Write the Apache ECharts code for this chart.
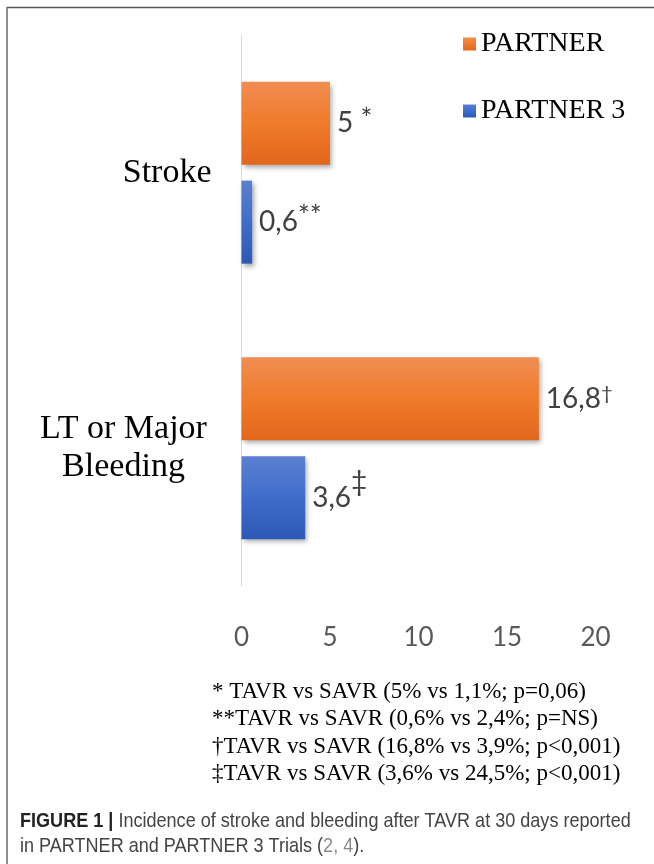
<!DOCTYPE html>
<html>
<head>
<meta charset="utf-8">
<script src="https://cdn.jsdelivr.net/npm/echarts@6/dist/echarts.min.js"></script>
<style>
  html, body { margin: 0; padding: 0; background: #ffffff; }
  #chart { width: 654px; height: 864px; }
</style>
</head>
<body>
<div id="chart"></div>
<script>
// Outcome categories (top to bottom)
const categories = ['Stroke', 'LT or Major\nBleeding'];

// 30-day incidence (%) by trial
const seriesNames = ['PARTNER', 'PARTNER 3'];
const partnerValues = [5, 16.8];
const partner3Values = [0.6, 3.6];

// Significance marks shown next to each value
const partnerMarks = [' *', '\u2020'];
const partner3Marks = ['**', '\u2021'];

// Value axis ticks
const xTicks = [0, 5, 10, 15, 20];

// Footnotes under the axis
const footnotes = [
  '* TAVR vs SAVR (5% vs 1,1%; p=0,06)',
  '**TAVR vs SAVR (0,6% vs 2,4%; p=NS)',
  '\u2020TAVR vs SAVR (16,8% vs 3,9%; p<0,001)',
  '\u2021TAVR vs SAVR (3,6% vs 24,5%; p<0,001)'
];

// Figure caption
const captionTitle = 'FIGURE 1 |';
const captionLine1 = ' Incidence of stroke and bleeding after TAVR at 30 days reported';
const captionLine2a = 'in PARTNER and PARTNER 3 Trials (';
const captionRefs = '2, 4';
const captionLine2b = ').';

const SERIF = '"Liberation Serif", "Times New Roman", serif';
const SANS = 'Lato, "Open Sans", sans-serif';
const CAPTION_FONT = '"Liberation Sans", Arial, sans-serif';

function grad(top, mid, bottom) {
  return new echarts.graphic.LinearGradient(0, 0, 0, 1, [
    { offset: 0, color: top },
    { offset: 0.5, color: mid },
    { offset: 1, color: bottom }
  ]);
}
const orange = grad('#F08D52', '#F07B2B', '#E1661C');
const blue = grad('#5C80D0', '#3F6CCB', '#2E58B6');

const barShadow = {
  shadowColor: 'rgba(0,0,0,0.35)',
  shadowBlur: 5,
  shadowOffsetX: 2,
  shadowOffsetY: 3
};

// Superscript styles for the significance marks; bottom padding lifts the glyph by half its value
function sup(size, lift) {
  return {
    fontFamily: SANS, fontSize: size, color: '#404040',
    lineHeight: 30, verticalAlign: 'middle', padding: [0, 0, lift * 2, 0]
  };
}
const markStyles = {
  ast: sup(28, 3),
  ast2: sup(28, 5),
  dag: sup(20, 5),
  ddag: sup(28, 16)
};
function markKey(m) {
  if (m === '\u2020') return 'dag';
  if (m === '\u2021') return 'ddag';
  if (m === '**') return 'ast2';
  return 'ast';
}

function valueLabel(marks) {
  return {
    show: true,
    position: 'right',
    distance: 7,
    formatter: function (p) {
      const txt = String(p.value).replace('.', ',');
      const m = marks[p.dataIndex];
      return '{v|' + txt + '}{' + markKey(m) + '|' + m + '}';
    },
    rich: Object.assign({
      v: { fontFamily: SANS, fontSize: 28, color: '#404040', lineHeight: 30, verticalAlign: 'middle' }
    }, markStyles)
  };
}

const chart = echarts.init(document.getElementById('chart'), null, { renderer: 'canvas' });

const option = {
  backgroundColor: '#ffffff',
  animation: false,
  grid: { left: 241.5, right: 58.5, top: 35, bottom: 278, containLabel: false },
  legend: {
    orient: 'vertical',
    left: 458,
    top: 24,
    itemWidth: 13,
    itemHeight: 13,
    itemGap: 37,
    icon: 'rect',
    textStyle: { fontFamily: SERIF, fontSize: 28, color: '#000', lineHeight: 30 },
    data: seriesNames
  },
  xAxis: {
    type: 'value',
    min: 0,
    max: 20,
    interval: 5,
    axisLine: { show: false },
    axisTick: { show: false },
    splitLine: { show: false },
    axisLabel: {
      margin: 39,
      fontFamily: SANS,
      fontSize: 26,
      color: '#595959',
      formatter: function (v) { return xTicks.indexOf(v) >= 0 ? String(v) : ''; }
    }
  },
  yAxis: {
    type: 'category',
    inverse: true,
    data: categories,
    axisLine: { show: true, lineStyle: { color: '#D9D9D9', width: 1 } },
    axisTick: { show: false },
    axisLabel: {
      margin: 30,
      fontFamily: SERIF,
      fontSize: 34,
      color: '#000',
      lineHeight: 38,
      formatter: function (v) {
        return v.indexOf('\n') >= 0
          ? v.split('\n').map(function (s) { return '{c|' + s + '}'; }).join('\n')
          : v;
      },
      rich: {
        c: { fontFamily: SERIF, fontSize: 34, color: '#000', lineHeight: 38, width: 176, align: 'center' }
      }
    }
  },
  series: [
    {
      name: seriesNames[0],
      type: 'bar',
      data: partnerValues,
      barWidth: 83,
      barGap: '19%',
      itemStyle: Object.assign({ color: orange }, barShadow),
      label: valueLabel(partnerMarks)
    },
    {
      name: seriesNames[1],
      type: 'bar',
      data: partner3Values,
      barWidth: 83,
      barGap: '19%',
      itemStyle: Object.assign({ color: blue }, barShadow),
      label: valueLabel(partner3Marks)
    }
  ],
  graphic: [
    // frame lines
    { type: 'line', shape: { x1: 7, y1: 7.5, x2: 654, y2: 7.5 }, style: { stroke: '#5a5a5a', lineWidth: 1.5 }, silent: true },
    { type: 'line', shape: { x1: 7, y1: 7, x2: 7, y2: 864 }, style: { stroke: '#6a6a6a', lineWidth: 1.5 }, silent: true }
  ].concat(footnotes.map(function (t, i) {
    return {
      type: 'text',
      x: 212,
      y: 680 + i * 27.5,
      style: { text: t, font: '23px ' + SERIF, fill: '#000', textVerticalAlign: 'top' },
      silent: true
    };
  })).concat([
    {
      type: 'text',
      x: 20,
      y: 811,
      scaleX: 0.86,
      style: {
        text: '{b|' + captionTitle + '}{n|' + captionLine1 + '}',
        rich: {
          b: { font: 'bold 21px ' + CAPTION_FONT, fill: '#222' },
          n: { font: '21px ' + CAPTION_FONT, fill: '#444' }
        }
      },
      silent: true
    },
    {
      type: 'text',
      x: 20,
      y: 836,
      scaleX: 0.86,
      style: {
        text: '{n|' + captionLine2a + '}{r|' + captionRefs + '}{n|' + captionLine2b + '}',
        rich: {
          n: { font: '21px ' + CAPTION_FONT, fill: '#444' },
          r: { font: '21px ' + CAPTION_FONT, fill: '#8a8a8a' }
        }
      },
      silent: true
    }
  ])
};

chart.setOption(option);
</script>
</body>
</html>
